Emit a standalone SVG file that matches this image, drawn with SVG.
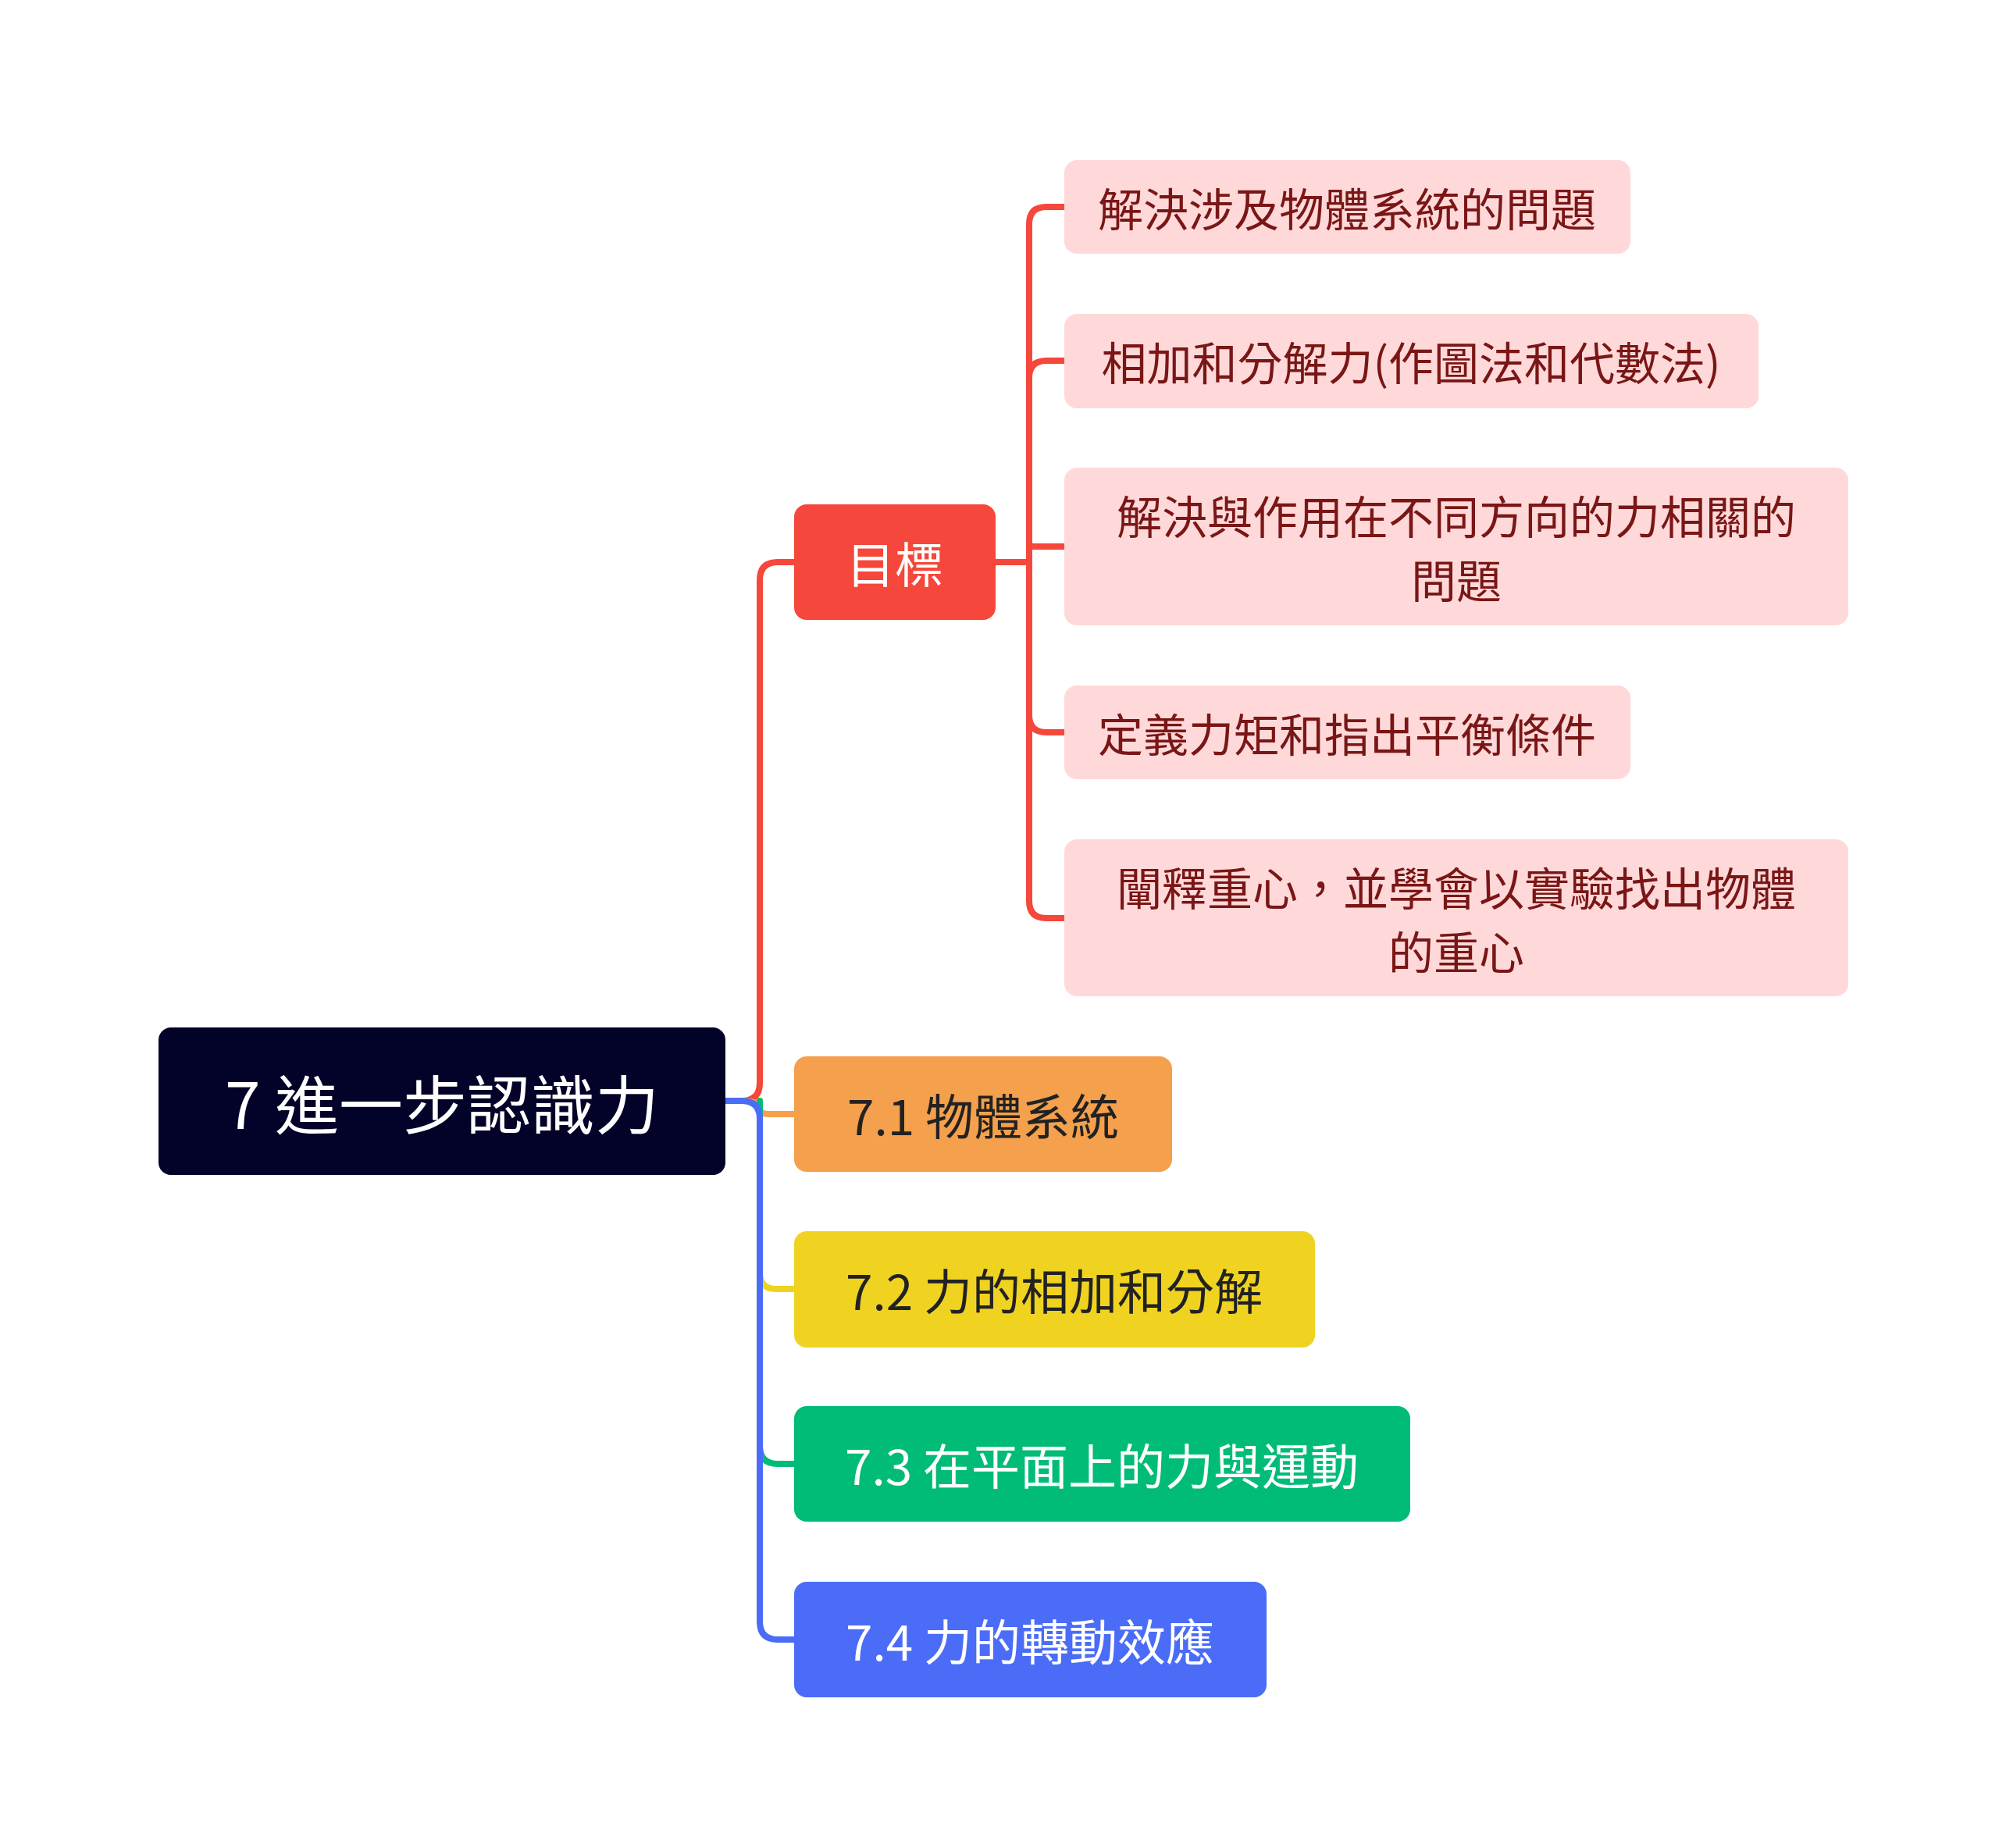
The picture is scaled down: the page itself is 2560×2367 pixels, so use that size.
<svg xmlns="http://www.w3.org/2000/svg" width="2560" height="2367" viewBox="0 0 2560 2367">
<style>
text{font-family:"Noto Sans CJK TC","Noto Sans CJK SC",sans-serif;text-anchor:middle;dominant-baseline:central}
.s{fill:#FFD9D9}.st{fill:#7A1616;font-size:58px}
.c{fill:none;stroke-width:8;stroke-linecap:round}
</style>
<rect width="2560" height="2367" fill="#fff"/>
<g id="connectors">
<path class="c" stroke="#F5473B" d="M929 1410 H950 Q973 1410 973 1387 V743 Q973 720 996 720 H1017"/>
<path class="c" stroke="#F4A04C" d="M929 1410 H950 Q973 1410 973 1420 Q973 1427 985 1427 H1017"/>
<path class="c" stroke="#F0D320" d="M973 1410 V1630 Q973 1651 994 1651 H1017"/>
<path class="c" stroke="#00BC77" d="M973 1410 V1852 Q973 1875 996 1875 H1017"/>
<path class="c" stroke="#4A6CF7" d="M929 1410 H950 Q973 1410 973 1433 V2077 Q973 2100 996 2100 H1017"/>
<g stroke="#F5473B">
<path class="c" d="M1275 720 H1318"/>
<path class="c" d="M1340 265 Q1318 265 1318 287 V1154 Q1318 1176 1340 1176 H1363"/>
<path class="c" d="M1340 265 H1363"/>
<path class="c" d="M1318 484 Q1318 462 1340 462 H1363"/>
<path class="c" d="M1318 700 H1363"/>
<path class="c" d="M1318 916 Q1318 938 1340 938 H1363"/>
</g>
</g>
<g id="root"><rect x="203" y="1316" width="726" height="189" rx="16" fill="#03032A"/><text x="566" y="1410" fill="#fff" font-size="82">7 進一步認識力</text></g>
<g id="goal"><rect x="1017" y="646" width="258" height="148" rx="16" fill="#F5473B"/><text x="1146" y="720" fill="#fff" font-size="62">目標</text></g>
<g id="g1"><rect class="s" x="1363" y="205" width="725" height="120" rx="16"/><text class="st" x="1725" y="265">解決涉及物體系統的問題</text></g>
<g id="g2"><rect class="s" x="1363" y="402" width="889" height="121" rx="16"/><text class="st" x="1807" y="462">相加和分解力(作圖法和代數法)</text></g>
<g id="g3"><rect class="s" x="1363" y="599" width="1004" height="202" rx="16"/><text class="st" x="1865" y="659">解決與作用在不同方向的力相關的</text><text class="st" x="1865" y="741">問題</text></g>
<g id="g4"><rect class="s" x="1363" y="878" width="725" height="120" rx="16"/><text class="st" x="1725" y="938">定義力矩和指出平衡條件</text></g>
<g id="g5"><rect class="s" x="1363" y="1075" width="1004" height="201" rx="16"/><text class="st" x="1865" y="1135">闡釋重心，並學會以實驗找出物體</text><text class="st" x="1865" y="1217">的重心</text></g>
<g id="n71"><rect x="1017" y="1353" width="484" height="148" rx="16" fill="#F4A04C"/><text x="1259" y="1427" fill="#222" font-size="62">7.1 物體系統</text></g>
<g id="n72"><rect x="1017" y="1577" width="667" height="149" rx="16" fill="#F0D320"/><text x="1350" y="1651" fill="#222" font-size="62">7.2 力的相加和分解</text></g>
<g id="n73"><rect x="1017" y="1801" width="789" height="148" rx="16" fill="#00BC77"/><text x="1411" y="1875" fill="#fff" font-size="62">7.3 在平面上的力與運動</text></g>
<g id="n74"><rect x="1017" y="2026" width="605" height="148" rx="16" fill="#4A6CF7"/><text x="1319" y="2100" fill="#fff" font-size="62">7.4 力的轉動效應</text></g>
</svg>
